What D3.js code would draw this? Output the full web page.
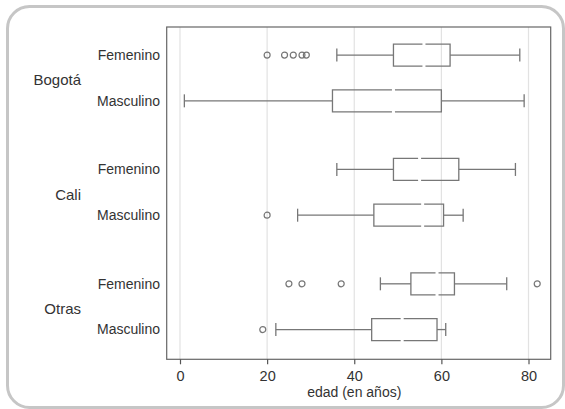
<!DOCTYPE html>
<html>
<head>
<meta charset="utf-8">
<script src="https://cdn.jsdelivr.net/npm/d3@7"></script>
<style>
  body { margin: 0; background: #fff; }
  svg text { font-family: "Liberation Sans", Arial, Helvetica, sans-serif; fill: #333; }
</style>
</head>
<body>
<div id="chart"></div>
<script>
// Data, one entry per row (top to bottom)
var groups = ['Bogotá', 'Cali', 'Otras'];
var sexes = ['Femenino', 'Masculino'];
var whiskerLow  = [36, 1, 36, 27, 46, 22];
var q1          = [49, 35, 49, 44.5, 53, 44];
var median      = [56, 49, 55, 55.7, 59, 51];
var q3          = [62, 60, 64, 60.5, 63, 59];
var whiskerHigh = [78, 79, 77, 65, 75, 61];
var outliers = [
  [20, 24, 26, 28, 29],
  [],
  [],
  [20],
  [25, 28, 37, 82],
  [19]
];
var xTicks = [0, 20, 40, 60, 80];

var width = 565, height = 409;
var frame = { left: 166.7, right: 550.7, top: 27, bottom: 359.3 };

var svg = d3.select('#chart').append('svg')
  .attr('width', width)
  .attr('height', height);

// Rounded outer border
svg.append('rect')
  .attr('x', 7.5).attr('y', 6.5)
  .attr('width', 556).attr('height', 401)
  .attr('rx', 22).attr('ry', 22)
  .attr('fill', 'none')
  .attr('stroke', '#c6c6c6')
  .attr('stroke-width', 3);

var x = d3.scaleLinear().domain([0, 80]).range([180, 528.5]);

// Rows sit in slots, with a wider gap between cities
var y = d3.scaleLinear().domain([-0.614, 6.65]).range([frame.top, frame.bottom]);

var rows = [];
groups.forEach(function(g, gi) {
  sexes.forEach(function(s, si) {
    var i = gi * 2 + si;
    rows.push({
      group: g, sex: s, slot: gi * 2.5 + si,
      lo: whiskerLow[i], q1: q1[i], med: median[i], q3: q3[i], hi: whiskerHigh[i],
      out: outliers[i]
    });
  });
});

// Gridlines
svg.append('g').selectAll('line')
  .data(xTicks)
  .enter().append('line')
    .attr('x1', function(d) { return x(d); })
    .attr('x2', function(d) { return x(d); })
    .attr('y1', frame.top)
    .attr('y2', frame.bottom)
    .attr('stroke', '#e2e2e2')
    .attr('stroke-width', 1.2);

// Plot frame
svg.append('rect')
  .attr('x', frame.left).attr('y', frame.top)
  .attr('width', frame.right - frame.left)
  .attr('height', frame.bottom - frame.top)
  .attr('fill', 'none')
  .attr('stroke', '#666')
  .attr('stroke-width', 1.2);

// X axis
var xAxis = d3.axisBottom(x).tickValues(xTicks).tickSize(5).tickSizeOuter(0);
var xg = svg.append('g')
  .attr('transform', 'translate(0,' + frame.bottom + ')')
  .call(xAxis);
xg.select('.domain').remove();
xg.selectAll('.tick line').attr('stroke', '#555').attr('stroke-width', 1.2);
xg.selectAll('.tick text')
  .attr('y', 11.5)
  .style('font-size', '14.5px')
  .style('font-family', '"Liberation Sans", Arial, sans-serif')
  .attr('fill', '#333');

svg.append('text')
  .attr('x', (x(0) + x(80)) / 2)
  .attr('y', 397)
  .attr('text-anchor', 'middle')
  .style('font-size', '14px')
  .text('edad (en años)');

var boxH = 11, capH = 6.5, gap = 1.5, stroke = '#777';

var rowG = svg.append('g').selectAll('g')
  .data(rows)
  .enter().append('g')
    .attr('transform', function(d) { return 'translate(0,' + y(d.slot) + ')'; });

// Whiskers
rowG.append('line')
  .attr('x1', function(d) { return x(d.lo); })
  .attr('x2', function(d) { return x(d.q1); })
  .attr('stroke', stroke).attr('stroke-width', 1.3);
rowG.append('line')
  .attr('x1', function(d) { return x(d.q3); })
  .attr('x2', function(d) { return x(d.hi); })
  .attr('stroke', stroke).attr('stroke-width', 1.3);
// Caps
rowG.append('line')
  .attr('x1', function(d) { return x(d.lo); })
  .attr('x2', function(d) { return x(d.lo); })
  .attr('y1', -capH).attr('y2', capH)
  .attr('stroke', stroke).attr('stroke-width', 1.3);
rowG.append('line')
  .attr('x1', function(d) { return x(d.hi); })
  .attr('x2', function(d) { return x(d.hi); })
  .attr('y1', -capH).attr('y2', capH)
  .attr('stroke', stroke).attr('stroke-width', 1.3);

// Box outline with a small gap marking the median
rowG.append('path')
  .attr('fill', 'none')
  .attr('stroke', stroke)
  .attr('stroke-width', 1.3)
  .attr('d', function(d) {
    var a = x(d.q1), b = x(d.q3), m = x(d.med);
    return 'M' + (m - gap) + ',' + (-boxH) + 'H' + a + 'V' + boxH + 'H' + (m - gap) +
      'M' + (m + gap) + ',' + (-boxH) + 'H' + b + 'V' + boxH + 'H' + (m + gap);
  });

// Outliers
rowG.selectAll('circle')
  .data(function(d) { return d.out; })
  .enter().append('circle')
    .attr('cx', function(v) { return x(v); })
    .attr('r', 3)
    .attr('fill', 'none')
    .attr('stroke', stroke)
    .attr('stroke-width', 1.2);

// Row labels
rowG.append('text')
  .attr('x', 160)
  .attr('dy', '0.35em')
  .attr('text-anchor', 'end')
  .style('font-size', '14px')
  .text(function(d) { return d.sex; });

// City labels, centred between their two rows
svg.append('g').selectAll('text')
  .data(groups)
  .enter().append('text')
    .attr('x', 81)
    .attr('y', function(g, gi) { return y(gi * 2.5 + 0.5) + 2; })
    .attr('dy', '0.35em')
    .attr('text-anchor', 'end')
    .style('font-size', '15px')
    .text(function(g) { return g; });
</script>
</body>
</html>
